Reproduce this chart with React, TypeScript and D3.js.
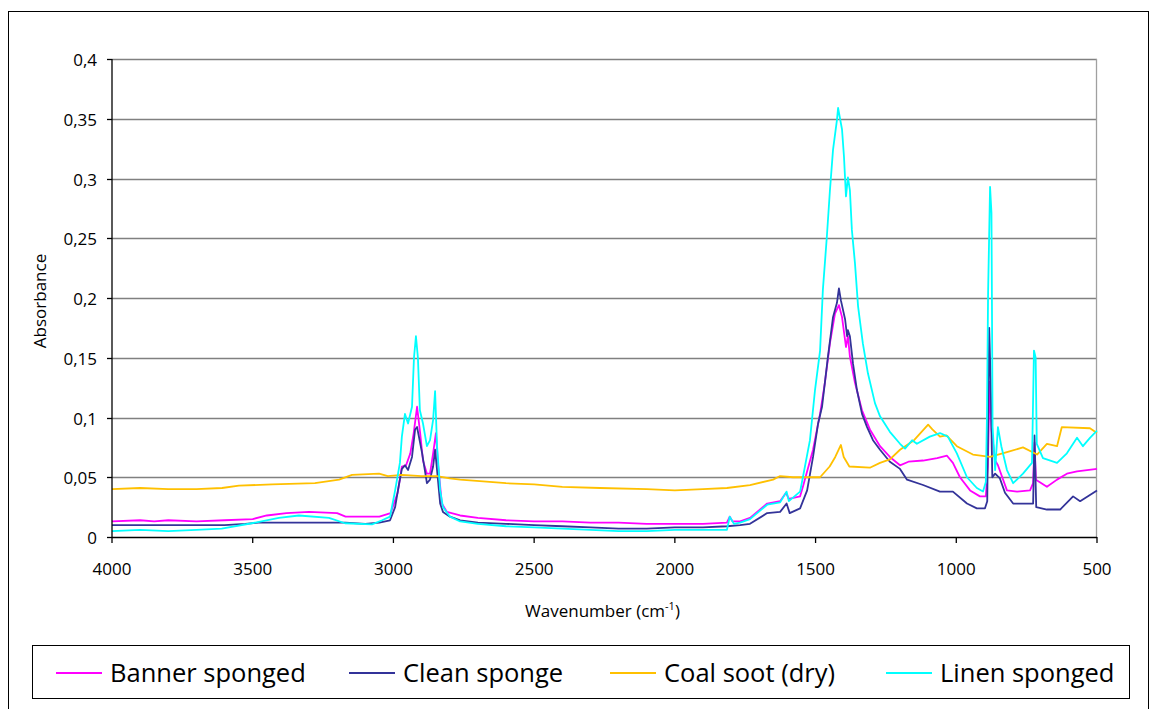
import React from 'react'
import * as d3 from 'd3'

const width = 1156;
const height = 709;
const margin = ({top: 59, right: 59, bottom: 172, left: 112});

const yTicks = [0, 0.05, 0.1, 0.15, 0.2, 0.25, 0.3, 0.35, 0.4];
const yTickLabels = ["0", "0,05", "0,1", "0,15", "0,2", "0,25", "0,3", "0,35", "0,4"];
const xTicks = [4000, 3500, 3000, 2500, 2000, 1500, 1000, 500];

// [wavenumber, absorbance]
const bannerSponged = [
    [4000, 0.013], [3900, 0.014], [3850, 0.013], [3800, 0.014], [3700, 0.013], [3600, 0.014], [3500, 0.015],
    [3450, 0.018], [3380, 0.020], [3300, 0.021], [3200, 0.020], [3170, 0.017], [3050, 0.017], [3010, 0.020],
    [2985, 0.037], [2970, 0.059], [2955, 0.060], [2940, 0.070], [2928, 0.087], [2916, 0.109], [2905, 0.087],
    [2895, 0.064], [2881, 0.053], [2870, 0.053], [2859, 0.070], [2849, 0.087], [2842, 0.062], [2828, 0.028],
    [2810, 0.021], [2763, 0.018], [2700, 0.016], [2600, 0.014], [2500, 0.013], [2400, 0.013], [2300, 0.012],
    [2200, 0.012], [2100, 0.011], [2000, 0.011], [1900, 0.011], [1815, 0.012], [1805, 0.017], [1795, 0.013],
    [1768, 0.013], [1733, 0.016], [1672, 0.028], [1626, 0.030], [1605, 0.037], [1595, 0.032], [1555, 0.034],
    [1545, 0.042], [1509, 0.073], [1484, 0.103], [1467, 0.129], [1449, 0.162], [1431, 0.187], [1417, 0.194],
    [1406, 0.184], [1392, 0.159], [1385, 0.168], [1378, 0.151], [1360, 0.129], [1335, 0.106], [1307, 0.090],
    [1271, 0.076], [1236, 0.067], [1200, 0.060], [1170, 0.063], [1118, 0.064], [1068, 0.066], [1033, 0.068],
    [1012, 0.062], [987, 0.050], [951, 0.039], [916, 0.034], [895, 0.034], [888, 0.060], [881, 0.130],
    [875, 0.090], [862, 0.064], [852, 0.060], [820, 0.039], [784, 0.038], [738, 0.039], [727, 0.045],
    [722, 0.079], [717, 0.048], [678, 0.042], [642, 0.048], [607, 0.053], [571, 0.055], [500, 0.057]
];

const cleanSponge = [
    [4000, 0.010], [3900, 0.010], [3800, 0.010], [3700, 0.010], [3600, 0.010], [3527, 0.011], [3480, 0.012],
    [3300, 0.012], [3170, 0.012], [3100, 0.011], [3050, 0.012], [3012, 0.014], [2994, 0.025], [2984, 0.039],
    [2970, 0.057], [2959, 0.060], [2948, 0.056], [2934, 0.067], [2923, 0.090], [2916, 0.092], [2898, 0.070],
    [2881, 0.045], [2870, 0.048], [2859, 0.059], [2852, 0.073], [2845, 0.056], [2834, 0.028], [2824, 0.021],
    [2799, 0.017], [2763, 0.014], [2700, 0.012], [2600, 0.011], [2500, 0.010], [2400, 0.009], [2300, 0.008],
    [2200, 0.007], [2100, 0.007], [2000, 0.008], [1900, 0.008], [1815, 0.009], [1768, 0.010], [1733, 0.011],
    [1672, 0.020], [1626, 0.021], [1603, 0.028], [1592, 0.020], [1555, 0.024], [1530, 0.039], [1509, 0.067],
    [1491, 0.095], [1477, 0.109], [1467, 0.129], [1456, 0.151], [1438, 0.184], [1424, 0.196], [1417, 0.208],
    [1410, 0.198], [1395, 0.182], [1388, 0.168], [1385, 0.173], [1378, 0.168], [1367, 0.145], [1353, 0.123],
    [1335, 0.103], [1317, 0.092], [1296, 0.081], [1271, 0.073], [1236, 0.063], [1200, 0.057], [1175, 0.048],
    [1118, 0.0435], [1058, 0.038], [1012, 0.038], [962, 0.028], [927, 0.024], [898, 0.024], [890, 0.030],
    [883, 0.175], [878, 0.131], [872, 0.050], [862, 0.053], [845, 0.049], [827, 0.037], [798, 0.028],
    [727, 0.028], [722, 0.085], [716, 0.025], [678, 0.023], [631, 0.023], [585, 0.034], [560, 0.030], [500, 0.039]
];

const coalSoot = [
    [4000, 0.040], [3900, 0.041], [3800, 0.040], [3700, 0.040], [3609, 0.041], [3549, 0.043], [3431, 0.044],
    [3279, 0.045], [3193, 0.048], [3147, 0.052], [3051, 0.053], [3020, 0.051], [2970, 0.052], [2900, 0.051],
    [2845, 0.051], [2800, 0.049], [2763, 0.048], [2600, 0.045], [2500, 0.044], [2400, 0.042], [2266, 0.041],
    [2100, 0.040], [2000, 0.039], [1900, 0.040], [1815, 0.041], [1733, 0.0435], [1651, 0.048], [1626, 0.051],
    [1580, 0.050], [1484, 0.050], [1450, 0.059], [1430, 0.067], [1410, 0.077], [1400, 0.067], [1380, 0.059],
    [1307, 0.058], [1271, 0.062], [1236, 0.065], [1200, 0.073], [1150, 0.081], [1100, 0.094], [1085, 0.090],
    [1058, 0.084], [1035, 0.085], [998, 0.076], [941, 0.069], [880, 0.067], [820, 0.071], [763, 0.075],
    [713, 0.069], [678, 0.078], [642, 0.076], [625, 0.092], [525, 0.091], [500, 0.087]
];

const linenSponged = [
    [4000, 0.005], [3900, 0.006], [3800, 0.005], [3700, 0.006], [3610, 0.007], [3503, 0.0115], [3407, 0.016],
    [3336, 0.018], [3229, 0.016], [3172, 0.0115], [3076, 0.0106], [3040, 0.014], [3012, 0.017], [2994, 0.039],
    [2977, 0.062], [2970, 0.084], [2959, 0.103], [2948, 0.095], [2934, 0.109], [2927, 0.150], [2920, 0.168],
    [2913, 0.150], [2906, 0.106], [2895, 0.095], [2881, 0.076], [2870, 0.081], [2859, 0.098], [2852, 0.122],
    [2845, 0.076], [2834, 0.039], [2824, 0.025], [2799, 0.017], [2763, 0.013], [2700, 0.011], [2600, 0.009],
    [2500, 0.008], [2400, 0.007], [2300, 0.006], [2200, 0.005], [2100, 0.005], [2000, 0.006], [1900, 0.006],
    [1815, 0.006], [1805, 0.017], [1790, 0.011], [1768, 0.012], [1733, 0.015], [1672, 0.027], [1626, 0.029],
    [1603, 0.038], [1595, 0.030], [1555, 0.038], [1545, 0.050], [1520, 0.081], [1502, 0.123], [1484, 0.156],
    [1474, 0.207], [1460, 0.251], [1449, 0.290], [1438, 0.324], [1424, 0.349], [1420, 0.359], [1406, 0.341],
    [1399, 0.318], [1392, 0.285], [1385, 0.301], [1378, 0.290], [1371, 0.257], [1360, 0.229], [1349, 0.193],
    [1332, 0.162], [1314, 0.137], [1289, 0.112], [1271, 0.101], [1236, 0.088], [1200, 0.078], [1182, 0.074],
    [1157, 0.081], [1140, 0.078], [1094, 0.084], [1058, 0.087], [1030, 0.084], [998, 0.070], [962, 0.050],
    [927, 0.041], [905, 0.038], [895, 0.046], [891, 0.101], [887, 0.204], [880, 0.293], [875, 0.271],
    [871, 0.092], [862, 0.056], [852, 0.092], [840, 0.076], [820, 0.056], [798, 0.045], [763, 0.053],
    [731, 0.062], [724, 0.156], [718, 0.150], [714, 0.078], [692, 0.066], [642, 0.062], [607, 0.070],
    [571, 0.083], [550, 0.076], [525, 0.083], [500, 0.089]
];

const series = [
    {name: "Banner sponged", color: "#ff00ff", values: bannerSponged},
    {name: "Clean sponge", color: "#333399", values: cleanSponge},
    {name: "Coal soot (dry)", color: "#ffc000", values: coalSoot},
    {name: "Linen sponged", color: "#00ffff", values: linenSponged},
];

const legendX = [56, 349, 610, 886];

export default function App() {
    const x = d3.scaleLinear()
        .domain([4000, 500])
        .range([margin.left, width - margin.right]);

    const y = d3.scaleLinear()
        .domain([0, 0.4])
        .range([height - margin.bottom, margin.top]);

    const line = d3.line<number[]>()
        .x(d => x(d[0]))
        .y(d => y(d[1]));

    const font = "'Open Sans', sans-serif";
    const x0 = x(4000), x1 = x(500), y0 = y(0), y1 = y(0.4);

    return (
        <svg width={width} height={height} style={{position: "absolute", left: 0, top: 0}}
             fontFamily={font}>
            <rect x={0} y={0} width={width} height={height} fill="#fff"/>
            <rect x={8.5} y={11.5} width={1140} height={710} fill="none" stroke="#000" strokeWidth={1}/>

            {yTicks.filter(t => t > 0).map(t => (
                <line key={t} x1={x0} x2={x1} y1={Math.round(y(t)) + 0.5} y2={Math.round(y(t)) + 0.5}
                      stroke="#808080" strokeWidth={1.3}/>
            ))}
            <line x1={x1 - 0.5} x2={x1 - 0.5} y1={y1} y2={y0} stroke="#a0a0a0" strokeWidth={1.3}/>

            <g fill="none" strokeWidth={1.8} strokeLinejoin="round">
                {series.map(s => (
                    <path key={s.name} d={line(s.values) || ""} stroke={s.color}/>
                ))}
            </g>

            <line x1={x0} x2={x0} y1={y1} y2={y0} stroke="#000" strokeWidth={1.3}/>
            <line x1={x0} x2={x1} y1={y0 + 0.5} y2={y0 + 0.5} stroke="#000" strokeWidth={1.3}/>
            {yTicks.map((t, i) => (
                <g key={t} transform={`translate(0,${Math.round(y(t)) + 0.5})`}>
                    <line x1={x0 - 5} x2={x0} stroke="#000" strokeWidth={1.3}/>
                    <text x={x0 - 15} dy="0.36em" textAnchor="end" fontSize={17}>{yTickLabels[i]}</text>
                </g>
            ))}
            {xTicks.map(t => (
                <g key={t} transform={`translate(${x(t)},${y0})`}>
                    <line y1={0} y2={6} stroke="#000" strokeWidth={1.3}/>
                    <text y={38} textAnchor="middle" fontSize={17}>{t}</text>
                </g>
            ))}

            <text transform={`translate(46,${(y0 + y1) / 2 + 3}) rotate(-90)`} textAnchor="middle" fontSize={17}>
                Absorbance
            </text>
            <text x={(x0 + x1) / 2 - 2} y={617} textAnchor="middle" fontSize={17}>
                Wavenumber (cm<tspan dy={-7} fontSize={11}>-1</tspan><tspan dy={7}>)</tspan>
            </text>

            <rect x={32.5} y={645.5} width={1097} height={53} fill="#fff" stroke="#000" strokeWidth={1}/>
            {series.map((s, i) => (
                <g key={s.name} transform={`translate(${legendX[i]},673)`}>
                    <line x1={0} x2={46} stroke={s.color} strokeWidth={2}/>
                    <text x={54} dy="0.35em" fontSize={25.5}>{s.name}</text>
                </g>
            ))}
        </svg>
    );
}
